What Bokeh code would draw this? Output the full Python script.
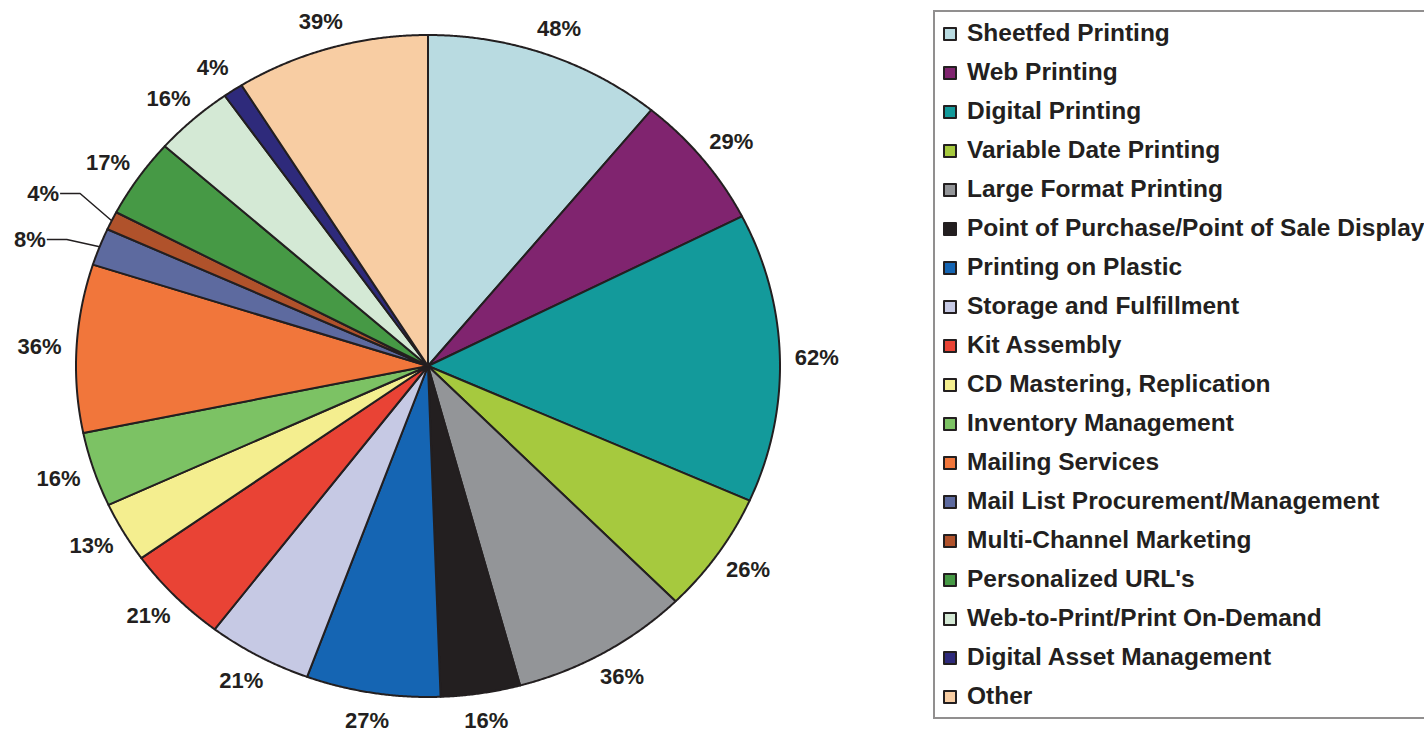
import numpy as np
from bokeh.plotting import figure
from bokeh.models import Range1d, ColumnDataSource, Legend, LegendItem
from bokeh.embed import file_html
from bokeh.resources import INLINE
from bokeh.core.properties import value

categories = [
    "Sheetfed Printing", "Web Printing", "Digital Printing", "Variable Date Printing",
    "Large Format Printing", "Point of Purchase/Point of Sale Display", "Printing on Plastic",
    "Storage and Fulfillment", "Kit Assembly", "CD Mastering, Replication",
    "Inventory Management", "Mailing Services", "Mail List Procurement/Management",
    "Multi-Channel Marketing", "Personalized URL's", "Web-to-Print/Print On-Demand",
    "Digital Asset Management", "Other",
]
percents = [48, 29, 62, 26, 36, 16, 27, 21, 21, 13, 16, 36, 8, 4, 17, 16, 4, 39]
colors = [
    "#b9dbe1", "#80246f", "#139a9b", "#a6c93e", "#939598", "#231f20", "#1565b3",
    "#c6c9e4", "#e94335", "#f4ee8f", "#7cc264", "#f1763b", "#5d6a9f", "#b0522b",
    "#469945", "#d4e9d5", "#2e2a7b", "#f8cda3",
]
callout = [False] * 12 + [True, True] + [False] * 4

INK = "#231f20"
W, H = 1424, 733
CX, CY = 427.5, 365.5   # pie centre inside the canvas (px from top-left)
RX, RY = 352.0, 331.0   # pie radii in px
OX, OY = 37.0, 27.5     # label offset outside the rim (px)

p = figure(width=W, height=H, output_backend="svg", toolbar_location=None,
           x_range=Range1d(-CX / RX, (W - CX) / RX),
           y_range=Range1d(-(H - CY) / RY, CY / RY),
           x_axis_location=None, y_axis_location=None, min_border=0)
p.grid.visible = False
p.outline_line_color = None

vals = np.array(percents, dtype=float)
frac = vals / vals.sum()
ends = np.cumsum(frac) * 2 * np.pi
starts = ends - frac * 2 * np.pi
mids = (starts + ends) / 2

xs, ys = [], []
for a0, a1 in zip(starts, ends):
    t = np.linspace(a0, a1, max(4, int((a1 - a0) / 0.004)))
    xs.append([0.0] + list(np.sin(t)))
    ys.append([0.0] + list(np.cos(t)))

src = ColumnDataSource(dict(xs=xs, ys=ys, color=colors, name=categories))
pie = p.patches("xs", "ys", source=src, fill_color="color", line_color=INK,
                line_width=2, line_join="round")

labels = [f"{v}%" for v in percents]
font = value("Liberation Sans")

# plain labels
nx = [np.sin(m) * (1 + OX / RX) for m, c in zip(mids, callout) if not c]
ny = [np.cos(m) * (1 + OY / RY) for m, c in zip(mids, callout) if not c]
nt = [l for l, c in zip(labels, callout) if not c]
p.text(x=nx, y=ny, text=nt, text_font=font, text_font_style="bold",
       text_font_size="22px", text_color=INK, text_align="center",
       text_baseline="middle")

# callout labels with leader lines
ci = [i for i, c in enumerate(callout) if c]
ex = [1.1 * np.sin(mids[i]) for i in ci]
ey = [1.1 * np.cos(mids[i]) for i in ci]
gap = 46.0 / RY
order = np.argsort(ey)
for k in range(1, len(order)):
    a, b = order[k - 1], order[k]
    d = ey[b] - ey[a]
    if d < gap:
        mid = (ey[a] + ey[b]) / 2 + 4.0 / RY
        ey[a] = mid - gap / 2
        ey[b] = mid + gap / 2
tx = [x - 21.0 / RX for x in ex]
for j, i in enumerate(ci):
    p.line(x=[np.sin(mids[i]), ex[j], tx[j] + 1.0 / RX],
           y=[np.cos(mids[i]), ey[j], ey[j]], line_color=INK, line_width=1.5)
p.text(x=tx, y=ey, text=[labels[i] for i in ci], text_font=font,
       text_font_style="bold", text_font_size="22px", text_color=INK,
       text_align="right", text_baseline="middle")

legend = Legend(
    items=[LegendItem(label=c, renderers=[pie], index=i) for i, c in enumerate(categories)],
    location=(933, 14), orientation="vertical", margin=0, padding=7,
    spacing=11, label_height=26, glyph_height=15, glyph_width=15, label_standoff=10,
    label_text_font="Liberation Sans", label_text_font_style="bold",
    label_text_font_size="24.5px", label_text_color=INK,
    border_line_color=INK, border_line_width=2, background_fill_color="white",
    background_fill_alpha=1.0,
)
p.add_layout(legend)

open("out.html", "w").write(file_html(p, INLINE))
